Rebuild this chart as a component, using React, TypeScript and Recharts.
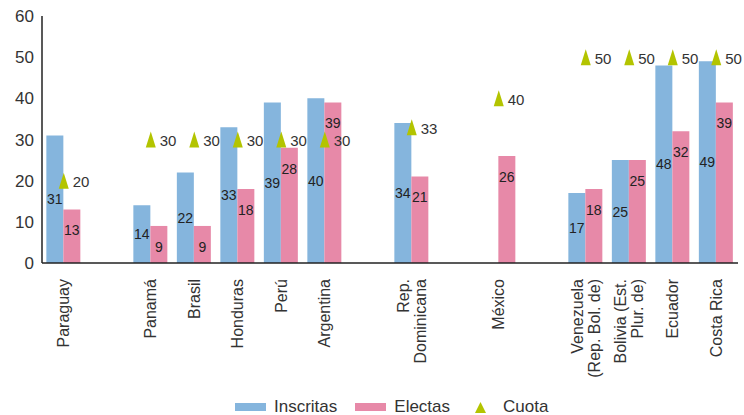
import { ComposedChart, Bar, Line, XAxis, YAxis, Legend, LabelList } from "recharts";

const categories = [
  "Paraguay", "", "Panamá", "Brasil", "Honduras", "Perú", "Argentina", "",
  "Rep.\nDominicana", "", "México", "", "Venezuela\n(Rep. Bol. de)", "Bolivia (Est.\nPlur. de)", "Ecuador", "Costa Rica",
];
const inscritas = [31, null, 14, 22, 33, 39, 40, null, 34, null, null, null, 17, 25, 48, 49];
const electas = [13, null, 9, 9, 18, 28, 39, null, 21, null, 26, null, 18, 25, 32, 39];
const cuota = [20, null, 30, 30, 30, 30, 30, null, 33, null, 40, null, 50, 50, 50, 50];
const yTicks = [0, 10, 20, 30, 40, 50, 60];

const BLUE = "#85b5dd";
const PINK = "#e789a8";
const GREEN = "#b3c400";
const TEXT = "#333333";
const FONT = "'Liberation Sans', Arial, sans-serif";

const data = categories.map((name, i) => ({
  name,
  inscritas: inscritas[i],
  electas: electas[i],
  cuota: cuota[i],
}));

function CountryTick({ x, y, payload }: any) {
  const lines = String(payload.value || "").split("\n").filter((l) => l);
  if (!lines.length) return null;
  return (
    <g transform={`translate(${x},${y}) rotate(-90)`}>
      <text textAnchor="end" fill={TEXT} fontSize={16} fontFamily={FONT}>
        {lines.map((l, i) => (
          <tspan key={i} x={-8} y={(i - (lines.length - 1) / 2) * 17} dominantBaseline="central">
            {l}
          </tspan>
        ))}
      </text>
    </g>
  );
}

function Triangle({ cx, cy, value }: any) {
  if (value == null || cy == null) return null;
  return <polygon points={`${cx - 5},${cy + 8} ${cx + 5},${cy + 8} ${cx},${cy - 8}`} fill={GREEN} />;
}

function CuotaLabel({ x, y, value }: any) {
  if (value == null || y == null) return null;
  return (
    <text x={x + 9} y={y + 1} fill={TEXT} fontSize={15} fontFamily={FONT} dominantBaseline="central">
      {value}
    </text>
  );
}

function LegendBox() {
  const item = { display: "flex", alignItems: "center" } as const;
  return (
    <div style={{ display: "flex", paddingLeft: 235, marginTop: 12, fontFamily: FONT, fontSize: 17, color: TEXT }}>
      <div style={{ ...item, marginRight: 18 }}>
        <span style={{ width: 31, height: 8, background: BLUE, marginRight: 8 }} />
        Inscritas
      </div>
      <div style={{ ...item, marginRight: 24 }}>
        <span style={{ width: 31, height: 8, background: PINK, marginRight: 8 }} />
        Electas
      </div>
      <div style={item}>
        <svg width={13} height={13} style={{ marginRight: 16 }}>
          <polygon points="1,12 12,12 6.5,1" fill={GREEN} />
        </svg>
        Cuota
      </div>
    </div>
  );
}

export default function App() {
  return (
    <div style={{ position: "absolute", left: 0, top: 0, background: "#fff" }}>
      <ComposedChart
        width={744}
        height={415}
        data={data}
        margin={{ top: 16, right: 6, bottom: 0, left: 0 }}
        barCategoryGap="10%"
        barGap={0}
      >
        <XAxis
          dataKey="name"
          interval={0}
          tick={<CountryTick />}
          tickLine={false}
          axisLine={{ stroke: "#222", strokeWidth: 1.5 }}
          height={122}
        />
        <YAxis
          domain={[0, 60]}
          ticks={yTicks}
          width={42}
          tickLine={false}
          axisLine={{ stroke: "#222", strokeWidth: 1.5 }}
          tick={{ fill: TEXT, fontSize: 17, fontFamily: FONT }}
        />
        <Legend verticalAlign="bottom" height={30} content={<LegendBox />} />
        <Bar dataKey="inscritas" fill={BLUE} isAnimationActive={false}>
          <LabelList dataKey="inscritas" position="center" fill="#222" fontSize={14} fontFamily={FONT} />
        </Bar>
        <Bar dataKey="electas" fill={PINK} isAnimationActive={false}>
          <LabelList dataKey="electas" position="insideTop" offset={16} fill="#222" fontSize={14} fontFamily={FONT} />
        </Bar>
        <Line
          dataKey="cuota"
          stroke="none"
          strokeWidth={0}
          dot={<Triangle />}
          activeDot={false}
          isAnimationActive={false}
        >
          <LabelList dataKey="cuota" content={<CuotaLabel />} />
        </Line>
      </ComposedChart>
    </div>
  );
}
